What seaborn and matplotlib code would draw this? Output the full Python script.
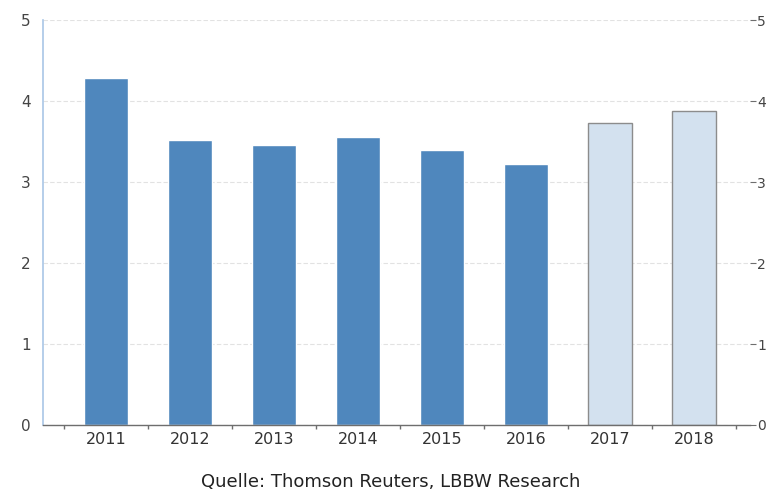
import numpy as np
import pandas as pd
import matplotlib.pyplot as plt
import seaborn as sns

# data
years = ['2011', '2012', '2013', '2014', '2015', '2016', '2017', '2018']
values = [4.28, 3.52, 3.46, 3.56, 3.40, 3.22, 3.73, 3.88]
kind = ['Ist', 'Ist', 'Ist', 'Ist', 'Ist', 'Ist', 'Prognose', 'Prognose']

df = pd.DataFrame({'year': years, 'value': values, 'kind': kind})

sns.set_style('white')
plt.rcParams['font.family'] = ['DejaVu Sans']

fig = plt.figure(figsize=(7.67, 4.93), dpi=100)
ax = fig.add_axes([0.056, 0.138, 0.922, 0.821])

pal = {'Ist': '#4f87bd', 'Prognose': '#d3e1ef'}
sns.barplot(data=df, x='year', y='value', hue='kind', palette=pal, dodge=False,
            width=0.52, legend=False, ax=ax, saturation=1)

# forecast bars get a grey outline
for p in ax.patches:
    if p.get_facecolor()[0] > 0.6:
        p.set_edgecolor('#8c8c8c')
        p.set_linewidth(1.0)

ax.set_ylim(0, 5)
ax.set_xlim(-0.75, 7.67)
ax.set_yticks([0, 1, 2, 3, 4, 5])
ax.set_xlabel('')
ax.set_ylabel('')
ax.yaxis.grid(True, linestyle=(0, (4, 2)), color='#e2e2e2', linewidth=0.8)
ax.set_axisbelow(True)

for s in ['top', 'right']:
    ax.spines[s].set_visible(False)
ax.spines['left'].set_color('#a9c6e6')
ax.spines['left'].set_linewidth(1.2)
ax.spines['bottom'].set_color('#6e6e6e')
ax.spines['bottom'].set_linewidth(1.0)

ax.tick_params(axis='y', length=0, pad=9, labelsize=11, labelcolor='#444444')
ax.tick_params(axis='x', length=0, pad=5, labelsize=11.5, labelcolor='#333333')
# small ticks between categories
ax.set_xticks(np.arange(-0.5, 7.6, 1), minor=True)
ax.tick_params(axis='x', which='minor', bottom=True, length=3, width=1,
               color='#6e6e6e', direction='out')

# right axis copy
ax2 = ax.twinx()
ax2.set_ylim(0, 5)
ax2.set_yticks([0, 1, 2, 3, 4, 5])
for s in ['top', 'left', 'bottom', 'right']:
    ax2.spines[s].set_visible(False)
ax2.tick_params(axis='y', right=True, length=4, color='#6e6e6e', pad=1,
                labelsize=10, labelcolor='#444444')

fig.text(0.51, 0.005, 'Quelle: Thomson Reuters, LBBW Research', ha='center', va='bottom',
         fontsize=13, color='#222222')

fig.savefig('out.png', dpi=100)
